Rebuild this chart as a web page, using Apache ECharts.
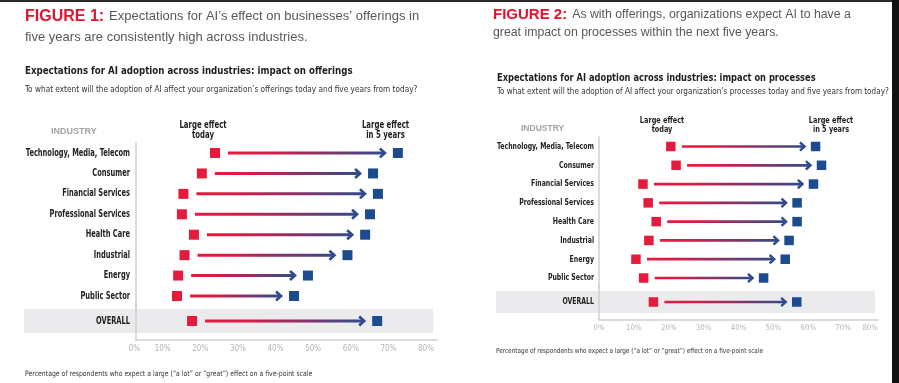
<!DOCTYPE html>
<html><head><meta charset="utf-8">
<script src="https://cdn.jsdelivr.net/npm/echarts@6/dist/echarts.min.js"></script>
<style>html,body{margin:0;padding:0;background:#fff}#c{width:899px;height:383px}</style>
</head><body><div id="c"></div>
<script>
// ---------- data ----------
const industries = ['Technology, Media, Telecom','Consumer','Financial Services','Professional Services','Health Care','Industrial','Energy','Public Sector'];
const overallCategory = ['OVERALL'];
const offeringsToday = [21.0, 17.5, 12.6, 12.2, 15.4, 12.9, 11.2, 10.9];
const offeringsFive  = [69.6, 63.0, 64.3, 62.2, 60.9, 56.2, 45.7, 42.0];
const offeringsOverallToday = [14.9];
const offeringsOverallFive  = [64.1];
const processesToday = [20.6, 22.1, 12.6, 14.1, 16.4, 14.3, 10.6, 12.8];
const processesFive  = [62.1, 63.8, 61.5, 56.8, 56.8, 54.5, 53.4, 47.2];
const processesOverallToday = [15.6];
const processesOverallFive  = [56.7];
const axisMin = 0, axisMax = 80, axisStep = 10; // tick labels 0%..80%

// ---------- styles ----------
const RED = '#e41b3d', BLUE = '#1d4b8f', ARW_R = '#e8193d', ARW_B = '#2f4b8b';
const NARROW = '"Liberation Sans Narrow","DejaVu Sans Condensed","Roboto Condensed",sans-serif';
const SANS = '"Liberation Sans",Arial,sans-serif';

const chart = echarts.init(document.getElementById('c'), null, {renderer:'canvas'});

function arrowRender(gap, lw, hx, hy) {
  return function (params, api) {
    const a = api.coord([api.value(0), api.value(2)]);
    const b = api.coord([api.value(1), api.value(2)]);
    const y = a[1], x1 = a[0] + gap, x2 = b[0] - gap;
    const grad = new echarts.graphic.LinearGradient(x1, 0, x2, 0,
      [{offset:0, color:ARW_R},{offset:0.25,color:'#d81c45'},{offset:1, color:ARW_B}], true);
    return {type:'group', children:[
      {type:'line', shape:{x1:x1, y1:y, x2:x2-1.5, y2:y}, style:{stroke:grad, lineWidth:lw, lineCap:'butt'}},
      {type:'polyline', shape:{points:[[x2-hx, y-hy],[x2, y],[x2-hx, y+hy]]},
        style:{stroke:ARW_B, lineWidth:lw*0.9, fill:null, lineJoin:'miter'}}
    ]};
  };
}

function labelRender(cats, fs, sx, margin) {
  return function (params, api) {
    const p = api.coord([api.value(0), api.value(1)]);
    return {type:'text', x:p[0]-margin, y:p[1], scaleX:sx,
      style:{text:cats[params.dataIndex], fontFamily:NARROW, fontWeight:'bold', fontSize:fs,
        fill:'#222', align:'right', verticalAlign:'middle'}};
  };
}

function catAxis(grid, data) {
  return {type:'category', gridIndex:grid, data:data, inverse:true,
    axisLine:{show:true, lineStyle:{color:'#cfcfd2', width:1.5}},
    axisTick:{show:false}, axisLabel:{show:false}};
}
function valAxis(grid, show, fs, labelCfg) {
  return {type:'value', gridIndex:grid, min:axisMin, max:axisMax, interval:axisStep, show:show,
    axisLine:{show:true, lineStyle:{color:'#cfcfd2', width:1.5}},
    axisTick:{show:false}, splitLine:{show:false},
    axisLabel:Object.assign({color:'#b4b4b8', fontFamily:NARROW, fontSize:fs, formatter:'{value}%'}, labelCfg)};
}

function buildSeries(xi, today, five, cats, sq, gap, lw, hx, hy, fs, sx, margin) {
  const arrows = today.map((t,i)=>[t, five[i], i]);
  return [
    {type:'custom', xAxisIndex:xi, yAxisIndex:xi, renderItem:labelRender(cats, fs, sx, margin),
      encode:{x:0, y:1}, data:cats.map((c,i)=>[axisMin, i]), silent:true, clip:false, z:4},
    {type:'custom', xAxisIndex:xi, yAxisIndex:xi, renderItem:arrowRender(gap,lw,hx,hy),
      encode:{x:[0,1], y:2}, data:arrows, silent:true, z:2},
    {type:'scatter', xAxisIndex:xi, yAxisIndex:xi, symbol:'rect', symbolSize:sq,
      itemStyle:{color:RED, opacity:1}, data:today.map((t,i)=>[t, cats[i]]), silent:true, z:3},
    {type:'scatter', xAxisIndex:xi, yAxisIndex:xi, symbol:'rect', symbolSize:sq,
      itemStyle:{color:BLUE, opacity:1}, data:five.map((f,i)=>[f, cats[i]]), silent:true, z:3}
  ];
}

function txt(x, y, text, font, size, color, weight, align, lh, sx) {
  return {type:'text', x:x, y:y, z:10, silent:true, scaleX:sx||1,
    style:{text:text, fontFamily:font, fontSize:size, fill:color, fontWeight:weight||'normal',
      align:align||'left', verticalAlign:'middle', lineHeight:lh||size*1.2}};
}

const option = {
  animation:false,
  title:[
    {left:25, top:6, padding:0, text:'{r|FIGURE 1:} {g|Expectations for AI’s effect on businesses’ offerings in}\n{g|five years are consistently high across industries.}',
      textStyle:{fontWeight:'normal', rich:{r:{color:'#e8112d', fontWeight:'bold', fontSize:16, fontFamily:SANS, lineHeight:21},
                       g:{color:'#58585b', fontWeight:'normal', fontSize:13, fontFamily:SANS, lineHeight:21}}}},
    {left:493, top:6, padding:0, text:'{r|FIGURE 2:} {g|As with offerings, organizations expect AI to have a}\n{g|great impact on processes within the next five years.}',
      textStyle:{fontWeight:'normal', rich:{r:{color:'#e8112d', fontWeight:'bold', fontSize:15, fontFamily:SANS, lineHeight:18},
                       g:{color:'#58585b', fontWeight:'normal', fontSize:12.3, fontFamily:SANS, lineHeight:18}}}}
  ],
  grid:[
    {left:136, width:301, top:142.8, height:163.4},
    {left:136, width:301, top:302, height:38},
    {left:599, width:279, top:137.1, height:150.3},
    {left:599, width:279, top:284, height:36}
  ],
  xAxis:[
    valAxis(0, false, 8),
    valAxis(1, true, 8, {align:'right', padding:[0,3,0,0], alignMinLabel:'center', margin:5}),
    valAxis(2, false, 7.8),
    valAxis(3, true, 7.8, {align:'center', alignMaxLabel:'right', margin:4})
  ],
  yAxis:[
    catAxis(0, industries),
    catAxis(1, overallCategory),
    catAxis(2, industries),
    catAxis(3, overallCategory)
  ],
  series:[].concat(
    buildSeries(0, offeringsToday, offeringsFive, industries, 10, 13, 3, 5, 4.5, 10, 0.74, 6),
    buildSeries(1, offeringsOverallToday, offeringsOverallFive, overallCategory, 10, 13, 3, 5, 4.5, 10, 0.74, 6),
    buildSeries(2, processesToday, processesFive, industries, 9.5, 11, 2.7, 4.6, 4.2, 9.2, 0.75, 5),
    buildSeries(3, processesOverallToday, processesOverallFive, overallCategory, 9.5, 11, 2.7, 4.6, 4.2, 9.2, 0.75, 5)
  ),
  graphic:[
    {type:'rect', z:-10, silent:true, shape:{x:0,y:0,width:899,height:2}, style:{fill:'#2a2a2a'}},
    {type:'rect', z:-10, silent:true, shape:{x:892,y:0,width:7,height:383}, style:{fill:'#111'}},
    {type:'rect', z:-10, silent:true, shape:{x:24,y:309,width:409,height:24}, style:{fill:'#ebebee'}},
    {type:'rect', z:-10, silent:true, shape:{x:496,y:291,width:379,height:22}, style:{fill:'#ebebee'}},
    txt(25, 71.2, 'Expectations for AI adoption across industries: impact on offerings', NARROW, 11, '#1e1e1e', 'bold', 'left', null, 0.875),
    txt(25, 90, 'To what extent will the adoption of AI affect your organization’s offerings today and five years from today?', NARROW, 8.8, '#333', 'normal', 'left', null, 0.93),
    txt(497, 78.4, 'Expectations for AI adoption across industries: impact on processes', NARROW, 10.6, '#1e1e1e', 'bold', 'left', null, 0.87),
    txt(497, 92, 'To what extent will the adoption of AI affect your organization’s processes today and five years from today?', NARROW, 8.7, '#333', 'normal', 'left', null, 0.93),
    txt(51, 132, 'INDUSTRY', SANS, 9, '#a3a3a6', 'bold'),
    txt(521, 128.3, 'INDUSTRY', SANS, 8.5, '#a3a3a6', 'bold'),
    txt(203, 130.5, 'Large effect\ntoday', NARROW, 9.8, '#1e1e1e', 'bold', 'center', 10, 0.79),
    txt(385.5, 130.5, 'Large effect\nin 5 years', NARROW, 9.8, '#1e1e1e', 'bold', 'center', 10, 0.79),
    txt(662, 125.3, 'Large effect\ntoday', NARROW, 9.3, '#1e1e1e', 'bold', 'center', 9.5, 0.78),
    txt(831, 125.3, 'Large effect\nin 5 years', NARROW, 9.3, '#1e1e1e', 'bold', 'center', 9.5, 0.78),
    txt(25, 374, 'Percentage of respondents who expect a large (“a lot” or “great”) effect on a five-point scale', NARROW, 7.5, '#333', 'normal', 'left', null, 0.914),
    txt(496, 351, 'Percentage of respondents who expect a large (“a lot” or “great”) effect on a five-point scale', NARROW, 7, '#333', 'normal', 'left', null, 0.91)
  ]
};
chart.setOption(option);
</script>
</body></html>
